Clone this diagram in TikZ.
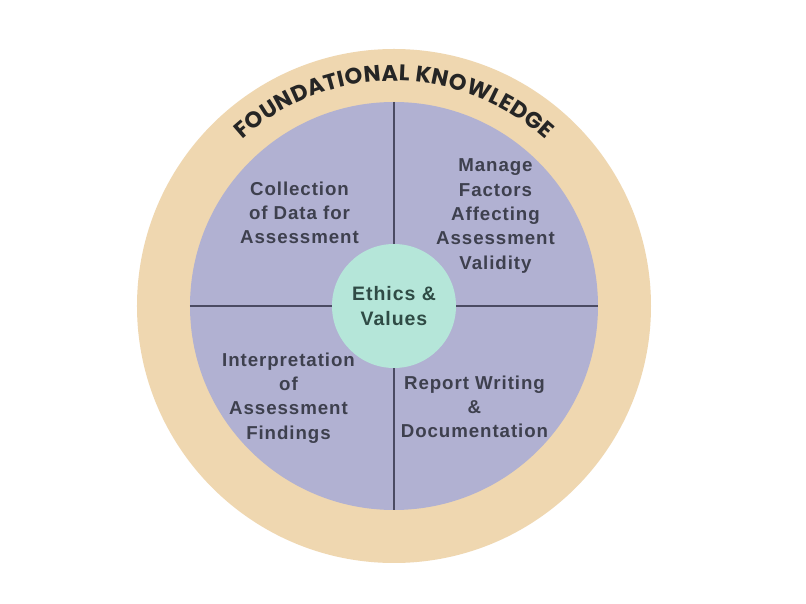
\documentclass[tikz,border=0pt]{standalone}
\usepackage{fontspec}
\setmainfont{Liberation Sans}[LetterSpace=5]
\newfontfamily\arcfont{Poppins}
\usetikzlibrary{decorations.text}
\definecolor{beige}{HTML}{EFD7B0}
\definecolor{lav}{HTML}{B1B1D2}
\definecolor{mint}{HTML}{B5E6D9}
\definecolor{divline}{HTML}{4B4B63}
\definecolor{bodytext}{HTML}{3E404E}
\definecolor{ethtext}{HTML}{2F4B45}
\definecolor{arctext}{HTML}{252525}
\newcommand{\arcfontsel}{\arcfont\bfseries\fontsize{22.5}{22.5}\selectfont}
\tikzset{
  quad/.style={align=center, text=bodytext, inner sep=0pt,
    font=\bfseries\fontsize{18.7}{24.3}\selectfont},
  divider/.style={draw=divline, line width=1.3pt}
}
\begin{document}
\begin{tikzpicture}[x=1pt,y=1pt]
\useasboundingbox[fill=white] (-394pt,-298pt) rectangle (412pt,306pt);
\node[circle, fill=beige, minimum size=514pt, inner sep=0pt] (outer) at (0,0) {};
\node[circle, fill=lav, minimum size=408pt, inner sep=0pt] (inner) at (0,0) {};
\draw[divider] (inner.north) -- (inner.south);
\draw[divider] (inner.west) -- (inner.east);
\node[circle, fill=mint, minimum size=124pt, inner sep=0pt, align=center,
  text=ethtext, font=\bfseries\fontsize{19.5}{25}\selectfont] (ethics) at (0,0) {Ethics \&\\Values};
\node[quad] (collect) at (-94.5,93) {Collection\\of Data for\\Assessment};
\node[quad] (manage) at (101.5,90) {Manage\\Factors\\Affecting\\Assessment\\Validity};
\node[quad] (interp) at (-105.5,-92) {Interpretation\\of\\Assessment\\Findings};
\node[quad] (report) at (80.5,-101) {Report Writing\\\&\\Documentation};
\path[font=\arcfontsel, decorate, decoration={text effects along path,
  text={FOUNDATIONAL KNOWLEDGE}, text align=center,
  text effects/.cd, text along path,
  characters={text=arctext, font=\arcfontsel, inner sep=0pt},
  character widths={font=\arcfontsel, inner xsep=0.2pt, inner ysep=0pt}}]
  (160:225pt) arc[start angle=160, end angle=20, radius=225pt];
\end{tikzpicture}
\end{document}
